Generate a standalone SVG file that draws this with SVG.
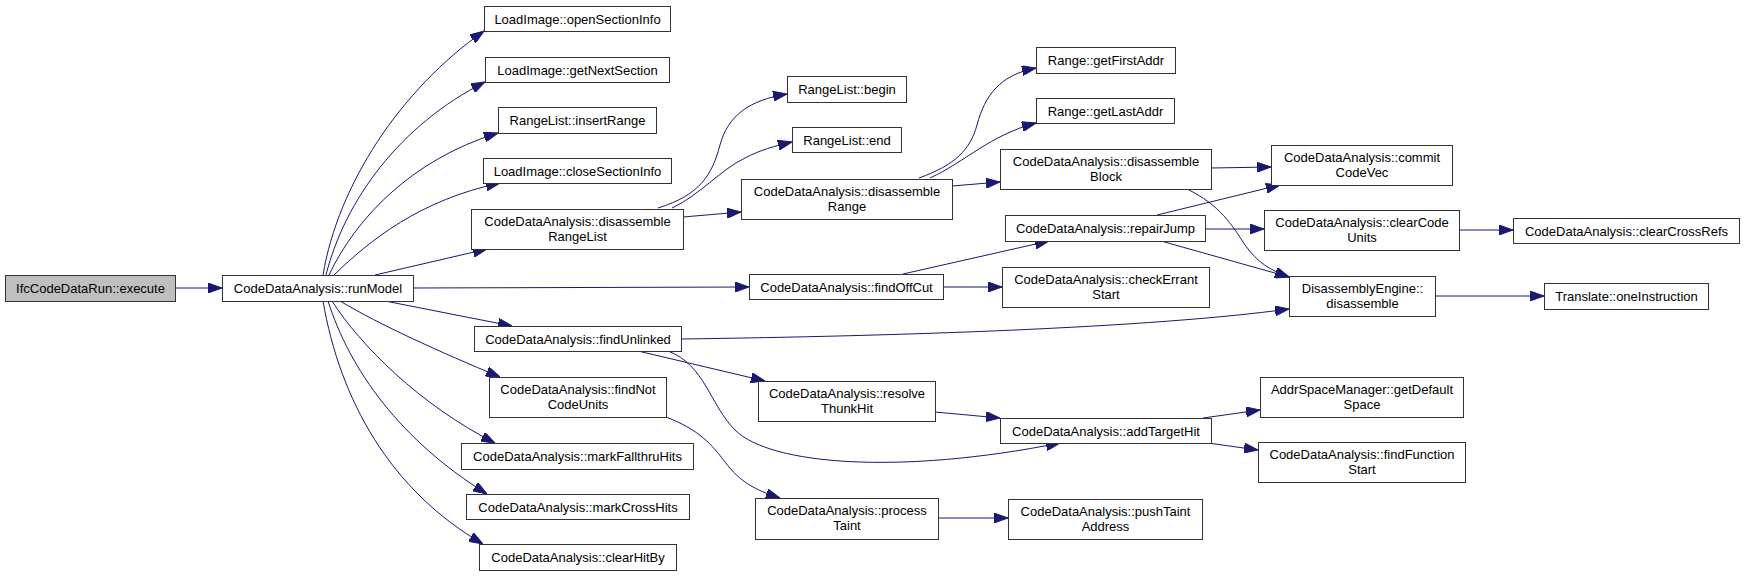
<svg xmlns="http://www.w3.org/2000/svg" width="1744" height="576" viewBox="0 0 1744 576">
<style>
.n rect{fill:#ffffff;stroke:#333333;stroke-width:1}
.root rect{fill:#bfbfbf}
text{font-family:"Liberation Sans",Arial,sans-serif;font-size:13px;fill:#000;text-anchor:middle}
.e path{fill:none;stroke:#191970;stroke-width:1;marker-end:url(#ah)}
</style>
<defs>
<marker id="ah" markerWidth="14" markerHeight="10" refX="14" refY="5" orient="auto" markerUnits="userSpaceOnUse">
<path d="M0,0 L14,5 L0,10 z" fill="#191970" stroke="#191970" stroke-width="1"/>
</marker>
</defs>
<rect x="0" y="0" width="1744" height="576" fill="#ffffff"/>
<g id="edges" class="e">
<path d="M175.5,288 L222,288"/>
<path d="M323,275 C338,185 400,90 484,31"/>
<path d="M326,275 C345,200 400,125 485,82"/>
<path d="M329,275 C355,220 410,160 498,133"/>
<path d="M334,275 C370,240 420,200 500,183"/>
<path d="M375,275 L487,249"/>
<path d="M413,288 L749,287"/>
<path d="M385,301 L512,326"/>
<path d="M340,301 C380,325 440,352 500,377"/>
<path d="M332,301 C360,345 420,405 495,443"/>
<path d="M328,301 C350,370 400,440 487,494"/>
<path d="M323,301 C340,400 390,490 483,544"/>
<path d="M658,208 C700,195 712,175 720,145 C728,115 750,100 787,94"/>
<path d="M672,208 C700,195 720,170 745,158 C760,150 775,146 792,142"/>
<path d="M683,217 L741,212"/>
<path d="M919,178 C955,165 970,150 977,125 C985,95 1000,75 1036,68"/>
<path d="M930,178 C965,162 990,135 1036,123"/>
<path d="M952,186 L1000,182"/>
<path d="M1211,168 L1271,167"/>
<path d="M1187,189 C1220,205 1232,225 1245,245 C1258,263 1270,270 1289,277"/>
<path d="M903,274 L1049,241"/>
<path d="M943,287 L1002,287"/>
<path d="M1157,215 L1280,185"/>
<path d="M1205,229 L1264,229"/>
<path d="M1161,241 L1289,277"/>
<path d="M681,339 C900,336 1150,328 1289,309"/>
<path d="M638,351 L765,381"/>
<path d="M668,351 C705,365 710,405 735,430 C770,465 900,475 1060,443"/>
<path d="M935,412 L1000,418"/>
<path d="M1203,418 L1260,410"/>
<path d="M1208,443 L1258,450"/>
<path d="M666,417 C700,430 712,445 725,462 C740,482 755,490 780,498"/>
<path d="M938,518 L1008,518"/>
<path d="M1459,230 L1513,230"/>
<path d="M1435,296 L1544,296"/>
</g>
<g id="n_execute" class="n root"><rect x="5.5" y="275.5" width="170" height="26"/><text x="90.5" y="293">IfcCodeDataRun::execute</text></g>
<g id="n_runModel" class="n"><rect x="222.5" y="275.5" width="191" height="26"/><text x="318" y="293">CodeDataAnalysis::runModel</text></g>
<g id="n_openSectionInfo" class="n"><rect x="484.5" y="6.5" width="186" height="25"/><text x="577.5" y="23.5">LoadImage::openSectionInfo</text></g>
<g id="n_getNextSection" class="n"><rect x="485.5" y="57.5" width="184" height="25"/><text x="577.5" y="74.5">LoadImage::getNextSection</text></g>
<g id="n_insertRange" class="n"><rect x="498.5" y="107.5" width="158" height="26"/><text x="577.5" y="125">RangeList::insertRange</text></g>
<g id="n_closeSectionInfo" class="n"><rect x="483.5" y="158.5" width="188" height="25"/><text x="577.5" y="175.5">LoadImage::closeSectionInfo</text></g>
<g id="n_disassembleRangeList" class="n"><rect x="471.5" y="209.5" width="212" height="40"/><text x="577.5" y="226">CodeDataAnalysis::disassemble</text><text x="577.5" y="241">RangeList</text></g>
<g id="n_findUnlinked" class="n"><rect x="474.5" y="326.5" width="207" height="25"/><text x="578" y="343.5">CodeDataAnalysis::findUnlinked</text></g>
<g id="n_findNotCodeUnits" class="n"><rect x="489.5" y="377.5" width="177" height="40"/><text x="578" y="394">CodeDataAnalysis::findNot</text><text x="578" y="409">CodeUnits</text></g>
<g id="n_markFallthruHits" class="n"><rect x="461.5" y="443.5" width="232" height="26"/><text x="577.5" y="461">CodeDataAnalysis::markFallthruHits</text></g>
<g id="n_markCrossHits" class="n"><rect x="466.5" y="494.5" width="223" height="25"/><text x="578" y="511.5">CodeDataAnalysis::markCrossHits</text></g>
<g id="n_clearHitBy" class="n"><rect x="479.5" y="544.5" width="197" height="26"/><text x="578" y="562">CodeDataAnalysis::clearHitBy</text></g>
<g id="n_begin" class="n"><rect x="787.5" y="76.5" width="119" height="26"/><text x="847" y="94">RangeList::begin</text></g>
<g id="n_end" class="n"><rect x="792.5" y="127.5" width="109" height="25"/><text x="847" y="144.5">RangeList::end</text></g>
<g id="n_disassembleRange" class="n"><rect x="741.5" y="179.5" width="211" height="40"/><text x="847" y="196">CodeDataAnalysis::disassemble</text><text x="847" y="211">Range</text></g>
<g id="n_findOffCut" class="n"><rect x="749.5" y="274.5" width="194" height="25"/><text x="846.5" y="291.5">CodeDataAnalysis::findOffCut</text></g>
<g id="n_resolveThunkHit" class="n"><rect x="758.5" y="381.5" width="177" height="40"/><text x="847" y="398">CodeDataAnalysis::resolve</text><text x="847" y="413">ThunkHit</text></g>
<g id="n_processTaint" class="n"><rect x="755.5" y="498.5" width="183" height="41"/><text x="847" y="515">CodeDataAnalysis::process</text><text x="847" y="530">Taint</text></g>
<g id="n_getFirstAddr" class="n"><rect x="1036.5" y="47.5" width="139" height="26"/><text x="1106" y="65">Range::getFirstAddr</text></g>
<g id="n_getLastAddr" class="n"><rect x="1036.5" y="98.5" width="138" height="25"/><text x="1105.5" y="115.5">Range::getLastAddr</text></g>
<g id="n_disassembleBlock" class="n"><rect x="1000.5" y="149.5" width="211" height="40"/><text x="1106" y="166">CodeDataAnalysis::disassemble</text><text x="1106" y="181">Block</text></g>
<g id="n_repairJump" class="n"><rect x="1005.5" y="215.5" width="200" height="26"/><text x="1105.5" y="233">CodeDataAnalysis::repairJump</text></g>
<g id="n_checkErrantStart" class="n"><rect x="1002.5" y="267.5" width="207" height="40"/><text x="1106" y="284">CodeDataAnalysis::checkErrant</text><text x="1106" y="299">Start</text></g>
<g id="n_addTargetHit" class="n"><rect x="1000.5" y="418.5" width="211" height="25"/><text x="1106" y="435.5">CodeDataAnalysis::addTargetHit</text></g>
<g id="n_pushTaintAddress" class="n"><rect x="1008.5" y="499.5" width="194" height="40"/><text x="1105.5" y="516">CodeDataAnalysis::pushTaint</text><text x="1105.5" y="531">Address</text></g>
<g id="n_commitCodeVec" class="n"><rect x="1271.5" y="145.5" width="181" height="40"/><text x="1362" y="162">CodeDataAnalysis::commit</text><text x="1362" y="177">CodeVec</text></g>
<g id="n_clearCodeUnits" class="n"><rect x="1264.5" y="210.5" width="195" height="40"/><text x="1362" y="227">CodeDataAnalysis::clearCode</text><text x="1362" y="242">Units</text></g>
<g id="n_disassemble" class="n"><rect x="1289.5" y="276.5" width="146" height="40"/><text x="1362.5" y="293">DisassemblyEngine::</text><text x="1362.5" y="308">disassemble</text></g>
<g id="n_getDefaultSpace" class="n"><rect x="1260.5" y="377.5" width="203" height="40"/><text x="1362" y="394">AddrSpaceManager::getDefault</text><text x="1362" y="409">Space</text></g>
<g id="n_findFunctionStart" class="n"><rect x="1258.5" y="442.5" width="207" height="40"/><text x="1362" y="459">CodeDataAnalysis::findFunction</text><text x="1362" y="474">Start</text></g>
<g id="n_clearCrossRefs" class="n"><rect x="1513.5" y="218.5" width="226" height="25"/><text x="1626.5" y="235.5">CodeDataAnalysis::clearCrossRefs</text></g>
<g id="n_oneInstruction" class="n"><rect x="1544.5" y="283.5" width="164" height="26"/><text x="1626.5" y="301">Translate::oneInstruction</text></g>
</svg>
